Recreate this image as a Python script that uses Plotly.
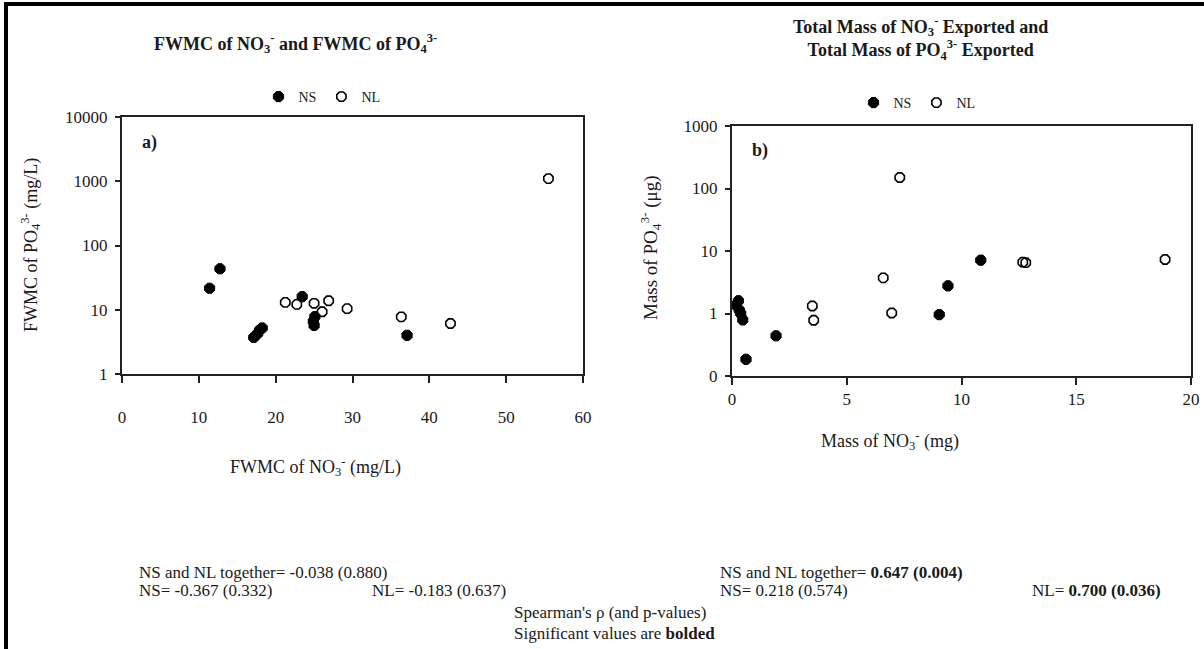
import plotly.graph_objects as go

W, H = 1204, 649
FONT = "Liberation Serif"
INK = "#1a1a1a"

# ---------------- data ----------------
# a) FWMC of NO3- (mg/L) vs FWMC of PO4 3- (mg/L)
a_ns_x = [11.4, 12.75, 17.15, 17.65, 17.9, 18.25, 23.45, 25.1, 25.0, 24.9, 37.1]
a_ns_y = [21.6, 43.4, 3.7, 4.25, 4.8, 5.2, 16.0, 7.8, 5.7, 6.6, 4.0]
a_nl_x = [21.25, 22.75, 25.0, 26.05, 26.9, 29.3, 36.35, 42.75, 55.5]
a_nl_y = [13.0, 12.1, 12.6, 9.3, 13.8, 10.4, 7.75, 6.1, 1100]

# b) Mass of NO3- (mg) vs Mass of PO4 3- (ug)
b_ns_x = [0.17, 0.28, 0.32, 0.38, 0.47, 0.61, 1.92, 9.03, 9.41, 10.84]
b_ns_y = [1.36, 1.6, 1.13, 1.0, 0.79, 0.185, 0.44, 0.96, 2.77, 7.13]
b_nl_x = [3.5, 3.56, 6.59, 6.96, 7.31, 12.67, 12.8, 18.87]
b_nl_y = [1.32, 0.78, 3.72, 1.02, 150, 6.62, 6.5, 7.31]

a_xticks = [0, 10, 20, 30, 40, 50, 60]
a_yticks = [1, 10, 100, 1000, 10000]
a_yticktext = ["1", "10", "100", "1000", "10000"]
b_xticks = [0, 5, 10, 15, 20]
b_yticks = [0.1, 1, 10, 100, 1000]
b_yticktext = ["0", "1", "10", "100", "1000"]


def px(x):
    return x / W


def py(y):
    return 1 - y / H


fig = go.Figure()

ns_marker = dict(symbol="octagon", size=11, color="black", line=dict(color="black", width=1))
nl_marker = dict(symbol="octagon-open", size=10, color="black", line=dict(color="black", width=1.6))

fig.add_trace(go.Scatter(x=a_ns_x, y=a_ns_y, mode="markers", name="NS", marker=ns_marker,
                         xaxis="x", yaxis="y", legend="legend"))
fig.add_trace(go.Scatter(x=a_nl_x, y=a_nl_y, mode="markers", name="NL", marker=nl_marker,
                         xaxis="x", yaxis="y", legend="legend"))
fig.add_trace(go.Scatter(x=b_ns_x, y=b_ns_y, mode="markers", name="NS", marker=ns_marker,
                         xaxis="x2", yaxis="y2", legend="legend2"))
fig.add_trace(go.Scatter(x=b_nl_x, y=b_nl_y, mode="markers", name="NL", marker=nl_marker,
                         xaxis="x2", yaxis="y2", legend="legend2"))

axis_common = dict(showline=True, linecolor="#222", linewidth=2, mirror=True,
                   ticks="outside", tickwidth=1.5, tickcolor="#222",
                   showgrid=False, zeroline=False, automargin=False,
                   tickfont=dict(family=FONT, size=17, color=INK))

fig.update_layout(
    width=W, height=H,
    margin=dict(l=0, r=0, t=0, b=0),
    paper_bgcolor="white", plot_bgcolor="white",
    font=dict(family=FONT, size=17, color=INK),
    xaxis=dict(domain=[px(122), px(583)], range=[0, 60], tickvals=a_xticks,
               anchor="y", ticklen=7, ticklabelstandoff=20, **axis_common),
    yaxis=dict(domain=[py(374), py(117)], type="log", range=[0, 4], tickvals=a_yticks,
               ticktext=a_yticktext, anchor="x", ticklen=5, ticklabelstandoff=4,
               **axis_common),
    xaxis2=dict(domain=[px(732), px(1191)], range=[0, 20], tickvals=b_xticks,
                anchor="y2", ticklen=7, **axis_common),
    yaxis2=dict(domain=[py(376), py(126)], type="log", range=[-1, 3], tickvals=b_yticks,
                ticktext=b_yticktext, anchor="x2", ticklen=5, ticklabelstandoff=4,
                **axis_common),
    legend=dict(x=px(322), y=py(97), xanchor="center", yanchor="middle", orientation="h",
                font=dict(family=FONT, size=14, color=INK), bgcolor="rgba(0,0,0,0)",
                itemwidth=30, tracegroupgap=0),
    legend2=dict(x=px(917), y=py(103), xanchor="center", yanchor="middle", orientation="h",
                 font=dict(family=FONT, size=14, color=INK), bgcolor="rgba(0,0,0,0)",
                 itemwidth=30, tracegroupgap=0),
    showlegend=True,
)

ann = []


def add_text(x, y, text, size=17, xanchor="center", yanchor="middle", angle=0):
    ann.append(dict(x=px(x), y=py(y), xref="paper", yref="paper", text=text,
                    showarrow=False, xanchor=xanchor, yanchor=yanchor, textangle=angle,
                    font=dict(family=FONT, size=size, color=INK)))


# titles
add_text(295, 43, "<b>FWMC of NO<sub>3</sub><sup>-</sup> and FWMC of PO<sub>4</sub><sup>3-</sup></b>", 18)
add_text(920, 38, "<b>Total Mass of NO<sub>3</sub><sup>-</sup> Exported and<br>"
                  "Total Mass of PO<sub>4</sub><sup>3-</sup> Exported</b>", 18)
# panel labels
add_text(140, 143, "<b>a)</b>", 18, xanchor="left")
add_text(750, 150, "<b>b)</b>", 18, xanchor="left")
# axis titles
add_text(30, 245, "FWMC of PO<sub>4</sub><sup>3-</sup> (mg/L)", 18, angle=-90)
add_text(315, 466, "FWMC of NO<sub>3</sub><sup>-</sup> (mg/L)", 18)
add_text(650, 248, "Mass of PO<sub>4</sub><sup>3-</sup> (μg)", 19, angle=-90)
add_text(890, 440, "Mass of NO<sub>3</sub><sup>-</sup> (mg)", 18)
# statistics
add_text(137, 572, "NS and NL together= -0.038 (0.880)", 17, xanchor="left")
add_text(137, 590, "NS= -0.367 (0.332)", 17, xanchor="left")
add_text(370, 590, "NL= -0.183 (0.637)", 17, xanchor="left")
add_text(718, 572, "NS and NL together= <b>0.647 (0.004)</b>", 17, xanchor="left")
add_text(718, 590, "NS= 0.218 (0.574)", 17, xanchor="left")
add_text(1030, 590, "NL= <b>0.700 (0.036)</b>", 17, xanchor="left")
add_text(512, 612, "Spearman's ρ (and p-values)", 17, xanchor="left")
add_text(512, 633, "Significant values are <b>bolded</b>", 17, xanchor="left")

fig.update_layout(annotations=ann)

# outer frame (top and left edges visible)
fig.add_shape(type="line", xref="paper", yref="paper", x0=px(6), x1=1.0, y0=py(4), y1=py(4),
              line=dict(color="black", width=4))
fig.add_shape(type="line", xref="paper", yref="paper", x0=px(6), x1=px(6), y0=py(2), y1=0,
              line=dict(color="black", width=4))

fig.write_html("out.html")
